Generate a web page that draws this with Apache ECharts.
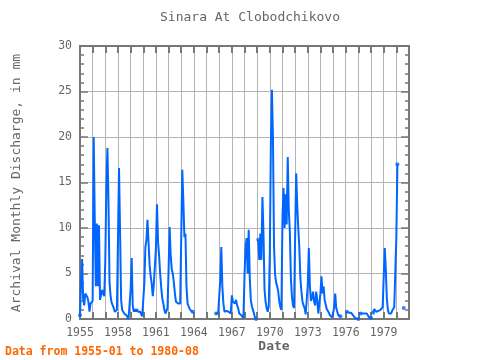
<!DOCTYPE html>
<html><head><meta charset="utf-8">
<script src="https://cdn.jsdelivr.net/npm/echarts@6/dist/echarts.min.js"></script>
<style>html,body{margin:0;padding:0;background:#fff}#c{width:480px;height:360px}</style>
</head><body><div id="c"></div>
<script>
const startYear = 1955;
const titleText = 'Sinara At Clobodchikovo';
const yAxisTitle = 'Archival Monthly Discharge, in mm';
const xAxisTitle = 'Date';
const footerText = 'Data from 1955-01 to 1980-08';
const xTickLabels = ['1955','1958','1961','1964','1967','1970','1973','1976','1979'];
const yTickLabels = ['0','5','10','15','20','25','30'];

const y1955 = [0.4, 4.3, 6.6, 2.2, 1.5, 2.8, 2.8, 2.4, 1.9, 0.8, 1.7, 1.9];
const y1956 = [2.0, 20.0, 10.9, 3.6, 10.5, 3.6, 10.3, 2.1, 2.0, 3.2, 2.8, 2.5];
const y1957 = [6.5, 14.5, 18.8, 13.0, 4.0, 2.5, 1.8, 1.5, 1.2, 0.8, 0.6, 1.0];
const y1958 = [8.7, 16.6, 9.5, 2.1, 1.0, 1.1, 0.6, 0.5, 0.4, 0.2, 0.0, 0.1];
const y1959 = [3.2, 6.7, 1.5, 0.8, 1.1, 0.8, 1.1, 0.8, 1.0, 0.8, 1.0, 0.3];
const y1960 = [0.5, 3.9, 7.9, 8.7, 10.9, 8.4, 6.0, 4.7, 3.9, 2.5, 3.8, 3.8];
const y1961 = [7.8, 12.6, 8.5, 7.0, 5.0, 3.5, 2.3, 1.7, 1.0, 0.6, 0.9, 1.2];
const y1962 = [5.4, 10.1, 7.0, 5.5, 5.0, 4.0, 2.8, 1.9, 1.7, 1.7, 1.6, 1.7];
const y1963 = [9.0, 16.4, 13.0, 9.0, 9.4, 3.5, 1.7, 1.5, 1.1, 1.0, 0.8, 0.8];
const y1964 = [null, null, null, null, null, null, null, null, null, null, null, null];
const y1965 = [null, null, null, null, null, null, null, null, null, 0.6, 0.7, 0.6];
const y1966 = [0.8, 4.3, 7.9, 3.5, 1.7, 0.8, 0.6, 0.9, 0.7, 0.8, 0.6, 0.6];
const y1967 = [2.6, 1.9, 2.1, 1.7, 2.1, 1.5, 1.2, 0.6, 0.5, 0.4, 0.3, 0.1];
const y1968 = [4.7, 7.9, 8.9, 5.0, 9.8, 4.5, 2.1, 1.4, 1.0, 0.6, 0.1, 0.0];
const y1969 = [null, 8.7, 6.5, 9.4, 6.5, 13.4, 9.4, 3.2, 1.9, 1.2, 0.8, 1.4];
const y1970 = [7.0, 19.1, 25.2, 19.9, 8.0, 4.9, 4.0, 3.6, 3.0, 1.9, 1.3, 1.0];
const y1971 = [11.1, 14.4, 10.0, 13.7, 10.4, 17.8, 12.0, 9.6, 4.5, 2.4, 1.5, 1.2];
const y1972 = [8.9, 16.0, 12.5, 10.0, 7.8, 4.5, 3.0, 1.9, 1.5, 1.2, 0.5, 0.4];
const y1973 = [3.7, 7.8, 3.7, 2.0, 2.3, 3.0, 1.9, 1.5, 3.0, 2.1, 0.6, 0.7];
const y1974 = [2.8, 4.7, 2.8, 3.6, 2.1, 1.6, 1.1, 0.9, 0.7, 0.4, 0.3, 0.2];
const y1975 = [0.6, 1.3, 2.8, 1.2, 0.8, 0.4, 0.4, 0.3, null, null, null, null];
const y1976 = [null, 0.8, 0.8, 0.7, 0.7, 0.7, 0.6, 0.4, 0.2, 0.1, 0.0, 0.0];
const y1977 = [0.0, null, 0.6, 0.6, 0.6, 0.6, 0.6, 0.7, 0.6, 0.5, 0.2, 0.1];
const y1978 = [0.1, null, 0.7, 1.1, 1.0, 0.8, 0.8, 0.9, 0.9, 1.0, 1.1, 1.3];
const y1979 = [1.5, 7.8, 5.5, 2.2, 1.0, 0.6, 0.5, 0.6, 0.9, 1.1, 1.3, 1.3];
const y1980 = [9.0, 17.0, null, null, null, null, null, 1.2];

const yearly = [y1955,y1956,y1957,y1958,y1959,y1960,y1961,y1962,y1963,y1964,y1965,y1966,y1967,
  y1968,y1969,y1970,y1971,y1972,y1973,y1974,y1975,y1976,y1977,y1978,y1979,y1980];

const flat = [];
yearly.forEach((arr, yi) => arr.forEach((v, mi) => flat.push([startYear + yi + mi / 12, v])));
const lineData = flat.map(p => [p[0], p[1] === null ? '-' : p[1]]);
const endData = [];
flat.forEach((p, i) => {
  if (p[1] === null) return;
  const prev = i > 0 ? flat[i - 1][1] : null;
  const next = i < flat.length - 1 ? flat[i + 1][1] : null;
  if (prev === null || next === null) endData.push(p);
});

const FONT = '"DejaVu Sans Mono", monospace';
const frame = '#777777';
const gridC = '#b4b4b4';
const blue = '#0066ff';

const chart = echarts.init(document.getElementById('c'), null, {renderer: 'canvas'});
const xCommon = {
  type: 'value', min: 1955, max: 1981, interval: 1,
  axisLine: {show: true, onZero: false, lineStyle: {color: frame, width: 2}},
  axisTick: {show: true, inside: true, length: 7, lineStyle: {color: frame, width: 2}},
};
const yCommon = {
  type: 'value', min: 0, max: 30, interval: 5,
  axisLine: {show: true, onZero: false, lineStyle: {color: frame, width: 2}},
  axisTick: {show: true, inside: true, length: 8, lineStyle: {color: frame, width: 1.5}},
  minorTick: {show: true, splitNumber: 5, length: 4, lineStyle: {color: frame, width: 1.5}},
};
chart.setOption({
  animation: false,
  backgroundColor: '#ffffff',
  grid: {left: 80, right: 71, top: 46, bottom: 41, containLabel: false},
  xAxis: [
    Object.assign({}, xCommon, {
      position: 'bottom',
      axisLabel: {show: true, margin: 8, color: '#666', fontFamily: FONT, fontSize: 11.5,
        formatter: v => { const s = String(Math.round(v)); return xTickLabels.includes(s) ? s : ''; }},
      splitLine: {show: true, lineStyle: {color: gridC, width: 1}}
    }),
    Object.assign({}, xCommon, {
      position: 'top', axisLabel: {show: false}, splitLine: {show: false}
    })
  ],
  yAxis: [
    Object.assign({}, yCommon, {
      position: 'left',
      axisLabel: {show: true, margin: 8, color: '#666', fontFamily: FONT, fontSize: 11.5,
        formatter: v => yTickLabels[Math.round(v / 5)]},
      splitLine: {show: true, lineStyle: {color: gridC, width: 1}}
    }),
    Object.assign({}, yCommon, {
      position: 'right', axisLabel: {show: false}, splitLine: {show: false}
    })
  ],
  series: [
    {type: 'line', data: lineData, xAxisIndex: 0, yAxisIndex: 0, showSymbol: false,
      connectNulls: false, lineStyle: {color: blue, width: 2}, itemStyle: {color: blue}, z: 3},
    {type: 'scatter', data: endData, xAxisIndex: 0, yAxisIndex: 0, symbolSize: 4,
      itemStyle: {color: blue}, z: 4}
  ],
  graphic: [
    {type: 'text', x: 250, y: 18, style: {text: titleText, fill: '#666', font: '13px ' + FONT,
      textAlign: 'center', textVerticalAlign: 'middle'}},
    {type: 'text', x: 274, y: 347, style: {text: xAxisTitle, fill: '#666', font: 'bold 13px ' + FONT,
      textAlign: 'center', textVerticalAlign: 'middle'}},
    {type: 'text', x: 17, y: 183, rotation: Math.PI / 2, style: {text: yAxisTitle, fill: '#666',
      font: '13px ' + FONT, textAlign: 'center', textVerticalAlign: 'middle'}},
    {type: 'text', x: 5, y: 352, style: {text: footerText, fill: '#ff6600', font: 'bold 11.5px ' + FONT,
      textAlign: 'left', textVerticalAlign: 'middle'}}
  ]
});
</script></body></html>
